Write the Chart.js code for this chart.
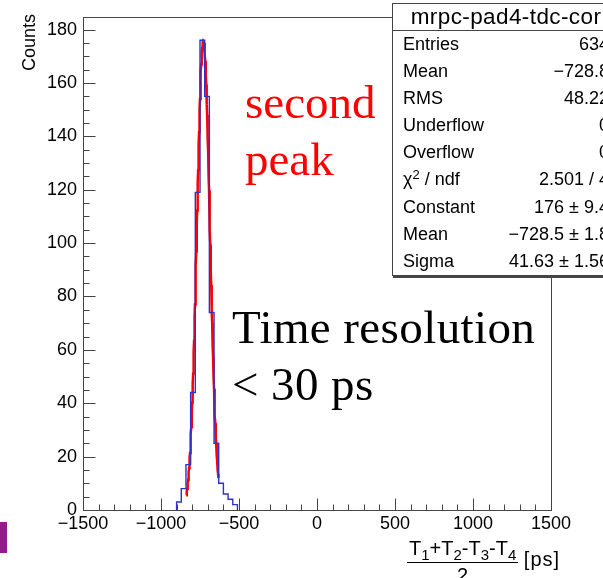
<!DOCTYPE html>
<html>
<head>
<meta charset="utf-8">
<title>mrpc-pad4-tdc-cor</title>
<script src="https://cdn.jsdelivr.net/npm/chart.js@4.4.0/dist/chart.umd.min.js"></script>
<style>
  body { margin: 0; background: #fff; }
  #wrap { position: relative; width: 603px; height: 578px; overflow: hidden; font-family: 'Liberation Sans', Arial, sans-serif; color: #000; }
  #chart { position: absolute; left: 0; top: 0; }
  .note { position: absolute; font-family: 'Liberation Serif', 'Times New Roman', serif; font-size: 47px; line-height: 57px; white-space: nowrap; }
  #stats { position: absolute; left: 392px; top: 3px; width: 226px; height: 271px; background: #fff; border: 1px solid #444; box-shadow: 1px 2px 0 #444; }
  #stats .head { height: 26px; line-height: 26px; text-align: center; font-size: 22.5px; border-bottom: 1px solid #444; letter-spacing: 0.4px; }
  #stats .row { display: flex; justify-content: space-between; height: 27.1px; line-height: 27.1px; font-size: 18px; padding: 0 10px 0 10px; }
  #stats sup { font-size: 13px; line-height: 0; vertical-align: 6px; }
  #ytitle { position: absolute; left: 19px; top: 14px; font-size: 18px; writing-mode: vertical-rl; transform: rotate(180deg); }
  #xtitle { position: absolute; left: 407px; top: 535px; font-size: 20px; white-space: nowrap; }
  #xtitle .frac { display: inline-block; vertical-align: middle; text-align: center; }
  #xtitle .num { display: block; padding: 0 2px 1px 2px; border-bottom: 1px solid #000; line-height: 26px; }
  #xtitle .den { display: block; line-height: 24px; }
  #xtitle sub { font-size: 15px; line-height: 0; vertical-align: -5px; }
  #xtitle .unit { letter-spacing: 1px; }
  #tab { position: absolute; left: 0; top: 522px; width: 7px; height: 31px; background: #921a8c; }
</style>
</head>
<body>
<div id="wrap">
  <canvas id="chart" width="603" height="578"></canvas>
  <div id="ytitle">Counts</div>
  <div class="note" style="left:245px; top:74px; color:#f00;">second<br>peak</div>
  <div class="note" style="left:232px; top:299px; letter-spacing:0.4px;">Time resolution<br>&lt; 30 ps</div>
  <div id="stats"></div>
  <div id="xtitle"><span class="frac"><span class="num">T<sub>1</sub>+T<sub>2</sub>-T<sub>3</sub>-T<sub>4</sub></span><span class="den">2</span></span> <span class="unit">[ps]</span></div>
  <div id="tab"></div>
</div>
<script>
'use strict';

// histogram bins (30 ps wide) and their counts
const binEdges = [-900, -870, -840, -810, -780, -750, -720, -690, -660, -630, -600, -570, -540, -510];
const binCounts = [3, 8, 17, 44, 119, 176, 155, 74, 25, 10, 6, 4, 2];

// gaussian fit result
const gausConstant = 176;
const gausMean = -728.5;
const gausSigma = 41.63;
const fitRange = [-838, -632];

// axis ticks
const xTicks = [-1500, -1000, -500, 0, 500, 1000, 1500];
const yTicks = [0, 20, 40, 60, 80, 100, 120, 140, 160, 180];
const yMax = 184.8;

// stats box rows
const statLabels = ['Entries', 'Mean', 'RMS', 'Underflow', 'Overflow', '\u03c7<sup>2</sup> / ndf', 'Constant', 'Mean', 'Sigma'];
const statValues = ['634', '\u2212728.8', '48.22', '0', '0', '2.501 / 4', '176 \u00b1 9.4', '\u2212728.5 \u00b1 1.8', '41.63 \u00b1 1.56'];

let statsElem = document.getElementById('stats');
let html = '<div class="head">mrpc-pad4-tdc-cor</div>';
statLabels.forEach((label, i) => {
  html += '<div class="row"><span>' + label + '</span><span>' + statValues[i] + '</span></div>';
});
statsElem.innerHTML = html;

// step outline of the histogram, starting and ending on zero
let histPoints = [{x: binEdges[0], y: 0}];
binCounts.forEach((c, i) => histPoints.push({x: binEdges[i], y: c}));
histPoints.push({x: binEdges[binEdges.length - 1], y: 0});

// fit curve sampled every 2 ps inside the fit range
let fitPoints = [];
for (let t = fitRange[0]; t <= fitRange[1]; t += 2) {
  let z = (t - gausMean) / gausSigma;
  fitPoints.push({x: t, y: gausConstant * Math.exp(-0.5 * z * z)});
}

// ROOT style frame with inward major and minor ticks
const frameTicks = {
  id: 'frameTicks',
  afterDatasetsDraw(chart) {
    const {ctx, chartArea: a, scales: {x, y}} = chart;
    const L = Math.round(a.left) + 0.5, R = Math.round(a.right) + 0.5;
    const T = Math.round(a.top) + 0.5, B = Math.round(a.bottom) + 0.5;
    ctx.save();
    ctx.strokeStyle = '#444';
    ctx.lineWidth = 1;
    ctx.strokeRect(L, T, R - L, B - T);
    ctx.beginPath();
    for (let v = xTicks[0]; v <= xTicks[xTicks.length - 1]; v += 100) {
      let px = Math.round(x.getPixelForValue(v)) + 0.5;
      let len = v % 500 === 0 ? 12 : 6;
      ctx.moveTo(px, B);
      ctx.lineTo(px, B - len);
    }
    for (let v = 0; v <= yTicks[yTicks.length - 1]; v += 5) {
      let py = Math.round(y.getPixelForValue(v)) + 0.5;
      let len = v % 20 === 0 ? 12 : 6;
      ctx.moveTo(L, py);
      ctx.lineTo(L + len, py);
    }
    ctx.stroke();
    ctx.restore();
  }
};

let canvasElem = document.getElementById('chart');

Chart.defaults.font.family = "'Liberation Sans', Arial, sans-serif";

new Chart(canvasElem, {
  type: 'line',
  data: {
    datasets: [
      {
        data: histPoints,
        borderColor: '#3030cc',
        borderWidth: 1.4,
        stepped: 'before',
        pointRadius: 0,
        fill: false,
      },
      {
        data: fitPoints,
        borderColor: '#ff0000',
        borderWidth: 2.5,
        pointRadius: 0,
        tension: 0,
        fill: false,
      },
    ],
  },
  options: {
    responsive: false,
    animation: false,
    devicePixelRatio: 1,
    layout: {padding: {top: 11, right: 52, bottom: 0, left: 0}},
    plugins: {legend: {display: false}, tooltip: {enabled: false}},
    scales: {
      x: {
        type: 'linear',
        min: xTicks[0],
        max: xTicks[xTicks.length - 1],
        grid: {display: false, drawTicks: false},
        border: {display: false},
        ticks: {
          stepSize: 500,
          padding: 3,
          color: '#000',
          font: {size: 18},
          maxRotation: 0,
          callback: v => (v < 0 ? '\u2212' + Math.abs(v) : String(v)),
        },
        afterBuildTicks: s => { s.ticks = xTicks.map(v => ({value: v})); },
        afterFit: s => { s.height = 68; },
      },
      y: {
        min: 0,
        max: yMax,
        grid: {display: false, drawTicks: false},
        border: {display: false},
        ticks: {
          stepSize: 20,
          includeBounds: false,
          padding: 6,
          color: '#000',
          font: {size: 18},
        },
        afterBuildTicks: s => { s.ticks = yTicks.map(v => ({value: v})); },
        afterFit: s => { s.width = 83; },
      },
    },
  },
  plugins: [frameTicks],
});
</script>
</body>
</html>
